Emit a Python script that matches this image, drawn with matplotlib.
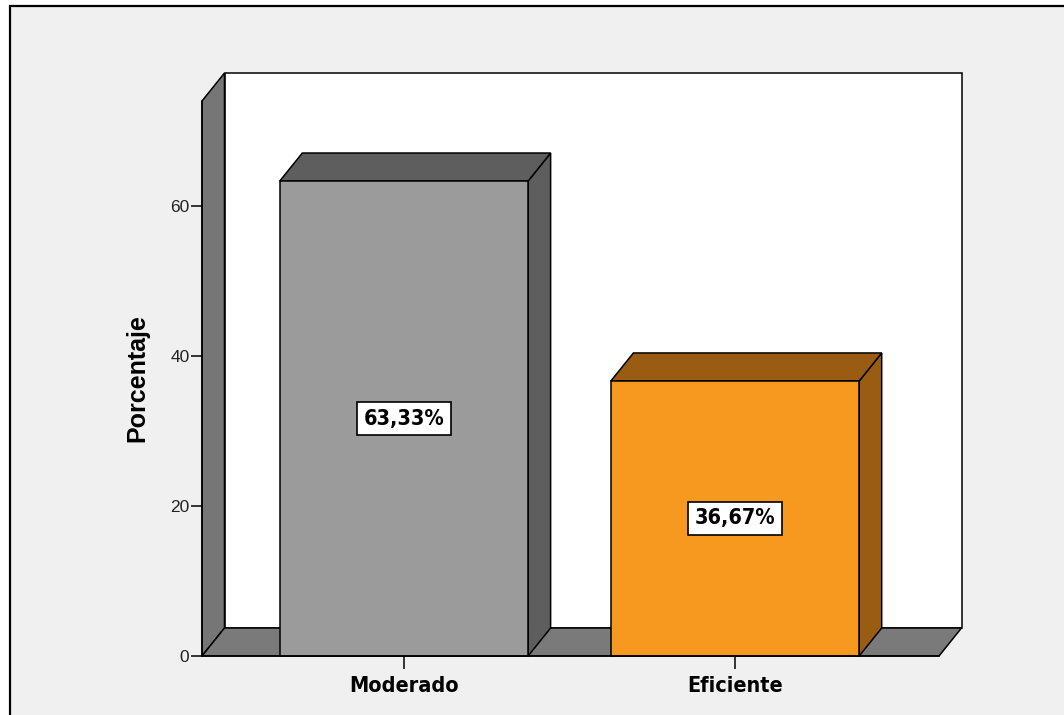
import matplotlib
matplotlib.use("Agg")
import matplotlib.pyplot as plt
from matplotlib import font_manager as fm
from matplotlib.patches import Polygon, Rectangle

categories = ["Moderado", "Eficiente"]
values = [63.33, 36.67]
value_labels = ["63,33%", "36,67%"]
yticks = [0, 20, 40, 60]

front_colors = ["#9b9b9b", "#f7991e"]
dark_colors = ["#5e5e5e", "#9a5c12"]

# pick a narrow font if one is installed
narrow = None
for f in fm.fontManager.ttflist:
    if f.name in ("Liberation Sans Narrow", "DejaVu Sans Condensed", "Arial Narrow"):
        narrow = f.name
        break
if narrow is None:
    for f in fm.fontManager.ttflist:
        if f.stretch in ("condensed", "semi-condensed") or "Condensed" in f.fname:
            narrow = f.name
            break
if narrow is not None:
    cond_kw = dict(family=narrow, fontstretch="condensed", fontsize=15.5)
else:
    cond_kw = dict(family="Liberation Sans", fontsize=15.5)

W, H = 1064, 715
fig = plt.figure(figsize=(W / 100, H / 100), dpi=100, facecolor="white")

# outer frame
fig.patches.append(Rectangle((10 / W, -0.05), 1.1, (H - 6) / H + 0.05,
                             transform=fig.transFigure, facecolor="#f0f0f0",
                             edgecolor="black", lw=1.6, zorder=-10))

x_left_px, x_right_px, y0_px = 202, 939, 656
ymax = 74.0
px_per_unit_y = 7.5
ax = fig.add_axes([x_left_px / W, (H - y0_px) / H, (x_right_px - x_left_px) / W,
                   ymax * px_per_unit_y / H])
ax.set_facecolor("none")

x0, x1 = -0.61, 1.616
ax.set_xlim(x0, x1)
ax.set_ylim(0, ymax)
xu = (x_right_px - x_left_px) / (x1 - x0)
dx = 22.5 / xu
dy = 28 / px_per_unit_y
bw = 0.75
lw = 1.1

def poly(pts, fc, z):
    ax.add_patch(Polygon(pts, closed=True, facecolor=fc, edgecolor="black",
                         lw=lw, clip_on=False, zorder=z, joinstyle="miter"))

# back wall
poly([(x0 + dx, dy), (x1 + dx, dy), (x1 + dx, ymax + dy), (x0 + dx, ymax + dy)], "white", 1)
# left wall
poly([(x0, 0), (x0 + dx, dy), (x0 + dx, ymax + dy), (x0, ymax)], "#767676", 2)
# floor
poly([(x0, 0), (x1, 0), (x1 + dx, dy), (x0 + dx, dy)], "#7a7a7a", 2)

xs = list(range(len(categories)))
for i, (x, v) in enumerate(zip(xs, values)):
    l, r = x - bw / 2, x + bw / 2
    poly([(r, 0), (r + dx, dy), (r + dx, v + dy), (r, v)], dark_colors[i], 3)
    poly([(l, v), (r, v), (r + dx, v + dy), (l + dx, v + dy)], dark_colors[i], 3)
    poly([(l, 0), (r, 0), (r, v), (l, v)], front_colors[i], 4)
    ax.text(x, v / 2, value_labels[i], ha="center", va="center",
            fontweight="bold", zorder=6, **cond_kw,
            bbox=dict(boxstyle="square,pad=0.3", facecolor="white",
                      edgecolor="black", lw=1.2))

for s in ["top", "right"]:
    ax.spines[s].set_visible(False)
for s in ["left", "bottom"]:
    ax.spines[s].set_linewidth(lw)
    ax.spines[s].set_zorder(7)

ax.set_yticks(yticks)
ax.set_yticklabels([str(t) for t in yticks], fontsize=12.5, family="Liberation Sans",
                   color="#222222")
ax.tick_params(axis="y", length=8, width=1.1, pad=1)
ax.set_xticks(xs)
ax.set_xticklabels(categories, fontweight="bold", **cond_kw)
ax.tick_params(axis="x", length=9.5, width=1.1, pad=5)

ax.set_ylabel("Porcentaje", fontsize=18, fontweight="bold", family="Liberation Sans")
ax.yaxis.set_label_coords(-0.072, 0.5)

fig.savefig("out.png", dpi=100, facecolor=fig.get_facecolor())
